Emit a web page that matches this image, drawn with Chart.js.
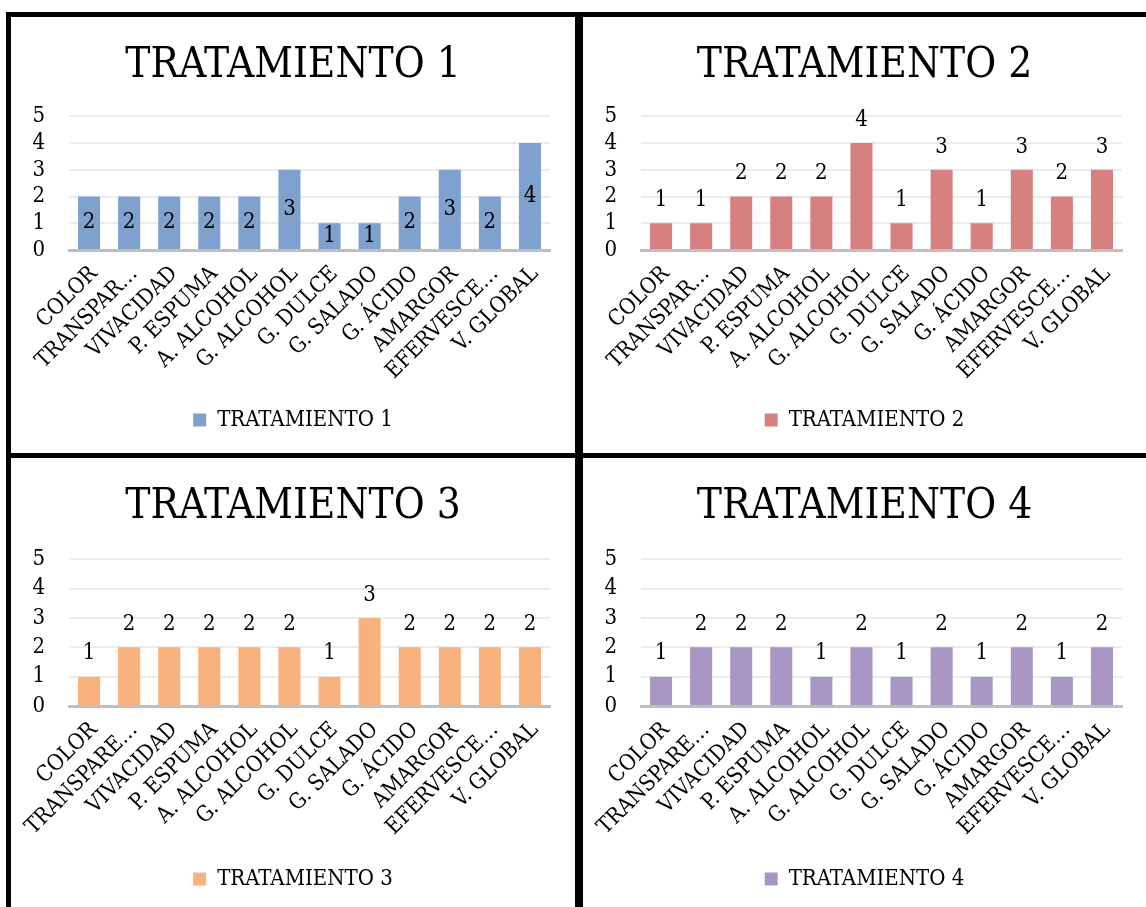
<!DOCTYPE html>
<html>
<head>
<meta charset="utf-8">
<script src="https://cdn.jsdelivr.net/npm/chart.js@4.4.1/dist/chart.umd.min.js"></script>
<style>
  html, body { margin: 0; padding: 0; background: #fff; }
  body { width: 1146px; height: 907px; position: relative; overflow: hidden; }
  .rule { position: absolute; background: #000; }
  .panel { position: absolute; }
  .panel canvas { display: block; }
</style>
</head>
<body>
<div class="rule" style="left:6px;top:12px;width:1140px;height:5px"></div>
<div class="rule" style="left:6px;top:12px;width:5px;height:895px"></div>
<div class="rule" style="left:575px;top:12px;width:8px;height:895px"></div>
<div class="rule" style="left:6px;top:453px;width:1140px;height:5px"></div>

<div class="panel" style="left:11px;top:17px;width:564px;height:436px"><canvas id="c1"></canvas></div>
<div class="panel" style="left:583px;top:17px;width:563px;height:436px"><canvas id="c2"></canvas></div>
<div class="panel" style="left:11px;top:458px;width:564px;height:449px"><canvas id="c3"></canvas></div>
<div class="panel" style="left:583px;top:458px;width:563px;height:449px"><canvas id="c4"></canvas></div>

<script>
// Sensory attributes scored for each treatment
const labelsTop = ["COLOR", "TRANSPAR…", "VIVACIDAD", "P. ESPUMA", "A. ALCOHOL", "G. ALCOHOL",
  "G. DULCE", "G. SALADO", "G. ÁCIDO", "AMARGOR", "EFERVESCE…", "V. GLOBAL"];
const labelsBottom = ["COLOR", "TRANSPARE…", "VIVACIDAD", "P. ESPUMA", "A. ALCOHOL", "G. ALCOHOL",
  "G. DULCE", "G. SALADO", "G. ÁCIDO", "AMARGOR", "EFERVESCE…", "V. GLOBAL"];

const tratamiento1 = [2, 2, 2, 2, 2, 3, 1, 1, 2, 3, 2, 4];
const tratamiento2 = [1, 1, 2, 2, 2, 4, 1, 3, 1, 3, 2, 3];
const tratamiento3 = [1, 2, 2, 2, 2, 2, 1, 3, 2, 2, 2, 2];
const tratamiento4 = [1, 2, 2, 2, 1, 2, 1, 2, 1, 2, 1, 2];

const yTicks = [0, 1, 2, 3, 4, 5];

const FONT = '"DejaVu Serif Condensed", "DejaVu Serif", serif';

// Draws the numeric value of each bar, either centred in the bar or just above it
const valueLabels = {
  id: 'valueLabels',
  afterDatasetsDraw(chart, args, opts) {
    const ctx = chart.ctx;
    const meta = chart.getDatasetMeta(0);
    const data = chart.data.datasets[0].data;
    ctx.save();
    ctx.font = opts.size + 'px ' + FONT;
    ctx.fillStyle = '#000';
    ctx.textAlign = 'center';
    ctx.textBaseline = 'middle';
    meta.data.forEach((bar, i) => {
      const y = opts.inside ? (bar.y + bar.base) / 2 : bar.y - opts.offset;
      ctx.fillText(String(data[i]), bar.x, y);
    });
    ctx.restore();
  }
};

function makeChart(id, title, labels, values, color, inside, g) {
  return new Chart(document.getElementById(id), {
    type: 'bar',
    data: {
      labels: labels,
      datasets: [{
        label: title,
        data: values,
        backgroundColor: color,
        borderWidth: 0,
        categoryPercentage: 1,
        barPercentage: 0.55
      }]
    },
    plugins: [valueLabels],
    options: {
      responsive: true,
      maintainAspectRatio: false,
      animation: false,
      layout: { padding: { left: 0, right: 0, top: 0, bottom: g.bottom } },
      plugins: {
        title: {
          display: true,
          text: title,
          color: '#000',
          font: { family: FONT, size: 42, weight: 'normal', lineHeight: 1.2 },
          padding: { top: 24, bottom: g.titleBottom }
        },
        legend: {
          position: 'bottom',
          labels: {
            color: '#000',
            boxWidth: 13,
            boxHeight: 13,
            padding: 10,
            font: { family: FONT, size: 22 }
          }
        },
        tooltip: { enabled: false },
        valueLabels: { inside: inside, offset: 23, size: 22 }
      },
      scales: {
        x: {
          grid: { display: false, drawTicks: false },
          border: { display: true, color: '#bfbfbf', width: 3 },
          ticks: {
            autoSkip: false,
            maxRotation: 45,
            minRotation: 45,
            padding: 11,
            labelOffset: 5,
            color: '#000',
            font: { family: FONT, size: 22 }
          },
          afterFit(s) { s.height = g.xHeight; }
        },
        y: {
          min: yTicks[0],
          max: yTicks[yTicks.length - 1],
          afterBuildTicks(s) { s.ticks = yTicks.map(v => ({ value: v })); },
          grid: {
            drawTicks: false,
            lineWidth: 2,
            color: c => (c.tick && c.tick.value === 0) ? 'rgba(0,0,0,0)' : '#ececec'
          },
          border: { display: false },
          ticks: {
            autoSkip: false,
            padding: 24,
            color: '#000',
            font: { family: FONT, size: 22 }
          },
          afterFit(s) { s.width = 58; }
        },
        // empty right-hand margin so the title and legend stay centred on the panel
        yRight: {
          position: 'right',
          grid: { display: false, drawTicks: false },
          border: { display: false },
          ticks: { display: false },
          afterFit(s) { s.width = g.right; }
        }
      }
    }
  });
}

const topGeom = { right: 25, bottom: 12, titleBottom: 25, xHeight: 149 };
const topGeom2 = { right: 24, bottom: 12, titleBottom: 25, xHeight: 149 };
const botGeom = { right: 25, bottom: 7, titleBottom: 27, xHeight: 152 };
const botGeom2 = { right: 24, bottom: 7, titleBottom: 27, xHeight: 152 };

makeChart('c1', 'TRATAMIENTO 1', labelsTop, tratamiento1, 'rgb(126,161,206)', true, topGeom);
makeChart('c2', 'TRATAMIENTO 2', labelsTop, tratamiento2, 'rgb(214,128,127)', false, topGeom2);
makeChart('c3', 'TRATAMIENTO 3', labelsBottom, tratamiento3, 'rgb(248,178,126)', false, botGeom);
makeChart('c4', 'TRATAMIENTO 4', labelsBottom, tratamiento4, 'rgb(168,150,197)', false, botGeom2);
</script>
</body>
</html>
